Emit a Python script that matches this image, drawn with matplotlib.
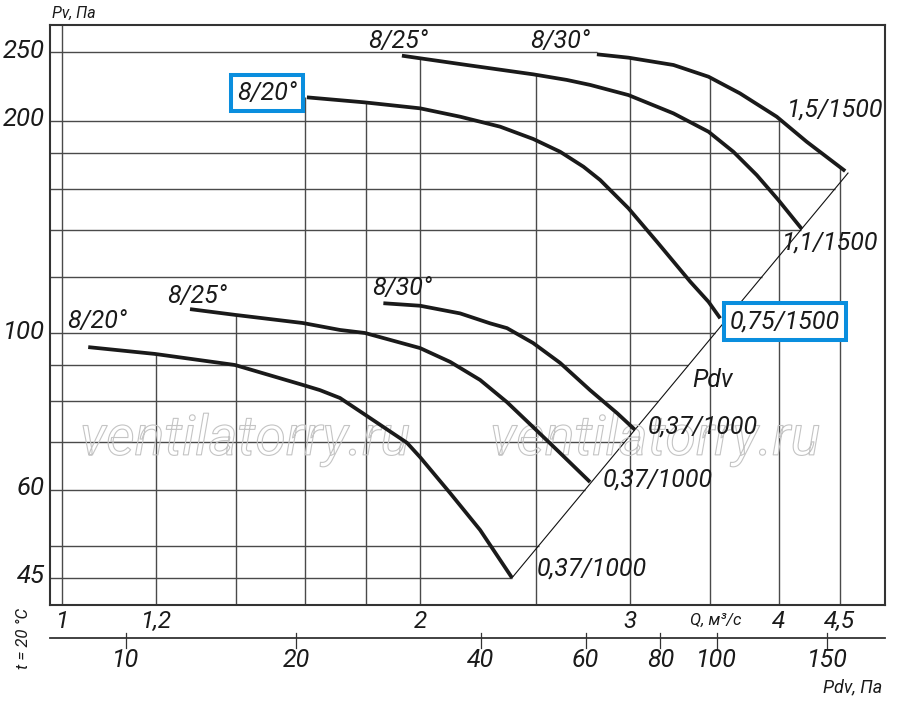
import numpy as np
import matplotlib
matplotlib.use("Agg")
import matplotlib.pyplot as plt
import matplotlib.patheffects as pe
from matplotlib.ticker import NullLocator
from matplotlib.transforms import blended_transform_factory, offset_copy

# ---------------- data ----------------
# lower group (0,37/1000)
low820_q = [1.053, 1.198, 1.398, 1.595, 1.648, 1.713, 1.79, 1.950, 2.0, 2.120, 2.246, 2.389]
low820_p = [95.5, 93.4, 90.1, 84.4, 83.0, 80.9, 77.0, 69.9, 66.7, 59.3, 52.6, 45.0]
low825_q = [1.282, 1.398, 1.595, 1.713, 1.798, 2.0, 2.120, 2.246, 2.366, 2.488, 2.622, 2.778]
low825_p = [108.1, 106.1, 103.3, 101.0, 100.0, 95.2, 91.0, 85.8, 79.8, 73.6, 67.6, 61.5]
low830_q = [1.863, 2.0, 2.161, 2.290, 2.366, 2.488, 2.622, 2.778, 2.927, 3.031]
low830_p = [110.2, 109.3, 106.6, 103.2, 101.6, 96.8, 90.7, 83.0, 77.0, 72.9]
# upper group (1500 rpm)
up820_q = [1.607, 1.796, 2.0, 2.161, 2.335, 2.489, 2.622, 2.743, 2.833, 2.992, 3.161, 3.372, 3.493, 3.573]
up820_p = [215.7, 212.2, 208.1, 202.5, 196.0, 188.3, 180.6, 172.0, 164.7, 150.2, 134.7, 118.2, 110.7, 104.9]
up825_q = [1.931, 2.0, 2.189, 2.489, 2.656, 2.779, 2.992, 3.264, 3.493, 3.665, 3.834, 3.998, 4.183]
up825_p = [247.1, 245.0, 239.7, 232.5, 228.3, 224.6, 217.3, 204.7, 192.8, 180.6, 167.4, 154.3, 140.4]
up830_q = [2.815, 2.992, 3.264, 3.493, 3.712, 3.985, 4.223, 4.549]
up830_p = [248.2, 245.5, 239.7, 230.7, 218.5, 202.5, 186.6, 169.6]

# Pdv (dynamic pressure) line through curve ends
pdv_line_q = [2.389, 4.574]
pdv_line_p = [45.0, 168.5]

# grid / ticks
grid_q = [1, 1.2, 1.4, 1.6, 1.8, 2, 2.5, 3, 3.5, 4, 4.5]
grid_p = [45, 50, 60, 70, 80, 90, 100, 120, 140, 160, 180, 200, 250]
q_ticks = [1, 1.2, 2, 3, 4, 4.5]
q_tick_labels = ["1", "1,2", "2", "3", "4", "4,5"]
p_ticks = [45, 60, 100, 200, 250]
p_tick_labels = ["45", "60", "100", "200", "250"]
pdv_tick_q = [1.132, 1.574, 2.249, 2.754, 3.183, 3.549, 4.395]
pdv_tick_labels = ["10", "20", "40", "60", "80", "100", "150"]

curves = [
    (low820_q, low820_p), (low825_q, low825_p), (low830_q, low830_p),
    (up820_q, up820_p), (up825_q, up825_p), (up830_q, up830_p),
]

# ---------------- figure ----------------
plt.rcParams["font.family"] = ["Roboto", "DejaVu Sans"]
plt.rcParams["font.style"] = "italic"

fig = plt.figure(figsize=(9, 7.17), dpi=100)
ax = fig.add_axes([50 / 900, 112 / 717, 835 / 900, 580 / 717])
ax.set_xscale("log")
ax.set_yscale("log")
xlim = (0.978, 4.913)
ylim = (41.18, 273.1)
ax.set_xlim(*xlim)
ax.set_ylim(*ylim)
for a in (ax.xaxis, ax.yaxis):
    a.set_major_locator(NullLocator())
    a.set_minor_locator(NullLocator())
for s in ax.spines.values():
    s.set_linewidth(1.5)
    s.set_color("#333333")

GRID = dict(color="#4a4a4a", lw=1.0, zorder=1)

# vertical grid lines: from bottom up to the upper envelope of curves
for q in grid_q:
    top = None
    for cq, cp in curves:
        if cq[0] * 0.97 <= q <= cq[-1] * 1.01:
            v = np.interp(q, cq, cp)
            top = v if top is None else max(top, v)
    if top is None:
        top = ylim[1]
    ax.vlines(q, ylim[0], top, **GRID)

# horizontal grid lines: from left up to the Pdv line / outer curve
lq0, lq1 = np.log10(pdv_line_q)
lp0, lp1 = np.log10(pdv_line_p)
for p in grid_p:
    if p <= pdv_line_p[1]:
        xe = 10 ** (lq0 + (np.log10(p) - lp0) * (lq1 - lq0) / (lp1 - lp0))
    else:
        xe = np.interp(p, up830_p[::-1], up830_q[::-1])
    ax.hlines(p, xlim[0], xe, **GRID)

# Pdv line
ax.plot(pdv_line_q, pdv_line_p, color="#111111", lw=0.8, zorder=2)

# curves
for cq, cp in curves:
    ax.plot(cq, cp, color="#1a1a1a", lw=2.7, solid_capstyle="butt",
            solid_joinstyle="round", zorder=3)

# watermark
for wq in (1.0364, 2.290):
    ax.text(wq, 67.2, "ventilatorry.ru", fontsize=40, color=(1, 1, 1, 0),
            ha="left", va="baseline", zorder=2,
            path_effects=[pe.Stroke(linewidth=0.8, foreground="#c4c4c4")])

# curve labels
LBL = dict(fontsize=18, color="#1a1a1a", ha="left", va="baseline", zorder=5)
BOX = dict(boxstyle="square,pad=0.25", fc="white", ec="#0a8ede", lw=2.9)
ax.text(1.0107, 101.6, "8/20°", **LBL)
ax.text(1.226, 110.3, "8/25°", **LBL)
ax.text(1.823, 113.2, "8/30°", **LBL)
ax.text(1.808, 253.1, "8/25°", **LBL)
ax.text(2.474, 253.1, "8/30°", **LBL)
ax.text(1.404, 213.8, "8/20°", bbox=BOX, **LBL)
ax.text(4.066, 202.4, "1,5/1500", **LBL)
ax.text(4.027, 131.1, "1,1/1500", **LBL)
ax.text(3.641, 101.5, "0,75/1500", bbox=BOX, **LBL)
ax.text(3.383, 83.9, "Pdv", **LBL)
ax.text(3.108, 72.1, "0,37/1000", **LBL)
ax.text(2.849, 60.7, "0,37/1000", **LBL)
ax.text(2.507, 45.4, "0,37/1000", **LBL)

# y tick labels
ytr = offset_copy(blended_transform_factory(ax.transAxes, ax.transData),
                  fig=fig, y=-5.5, units="dots")
for p, lab in zip(p_ticks, p_tick_labels):
    ax.text(-0.006, p, lab, transform=ytr, ha="right", va="baseline",
            fontsize=18.5, color="#1a1a1a", clip_on=False)

# x (Q) tick labels
xtr = blended_transform_factory(ax.transData, ax.transAxes)
for q, lab in zip(q_ticks, q_tick_labels):
    ax.text(q, -0.0397, lab, transform=xtr, ha="center", va="baseline",
            fontsize=17.5, color="#1a1a1a", clip_on=False)

# Pdv scale below
ax.plot(xlim, [-0.0574, -0.0574], transform=xtr, color="#333333", lw=1.3,
        clip_on=False)
for q, lab in zip(pdv_tick_q, pdv_tick_labels):
    ax.plot([q, q], [-0.0483, -0.0741], transform=xtr, color="#333333",
            lw=0.9, clip_on=False)
    ax.text(q, -0.1064, lab, transform=xtr, ha="center", va="baseline",
            fontsize=18, color="#1a1a1a", clip_on=False)

# axis titles
fig.text(52 / 900, 1 - 18 / 717, "Pv, Па", fontsize=11.5, ha="left",
         va="baseline", color="#1a1a1a")
fig.text(690 / 900, 1 - 625 / 717, "Q, м³/с", fontsize=12, ha="left",
         va="baseline", color="#1a1a1a")
fig.text(823 / 900, 1 - 692 / 717, "Pdv, Па", fontsize=13, ha="left",
         va="baseline", color="#1a1a1a")
fig.text(23.5 / 900, 1 - 638.5 / 717, "t = 20 °C", fontsize=12, rotation=90,
         ha="center", va="center", color="#1a1a1a")

fig.savefig("out.png", dpi=100, facecolor="white")
